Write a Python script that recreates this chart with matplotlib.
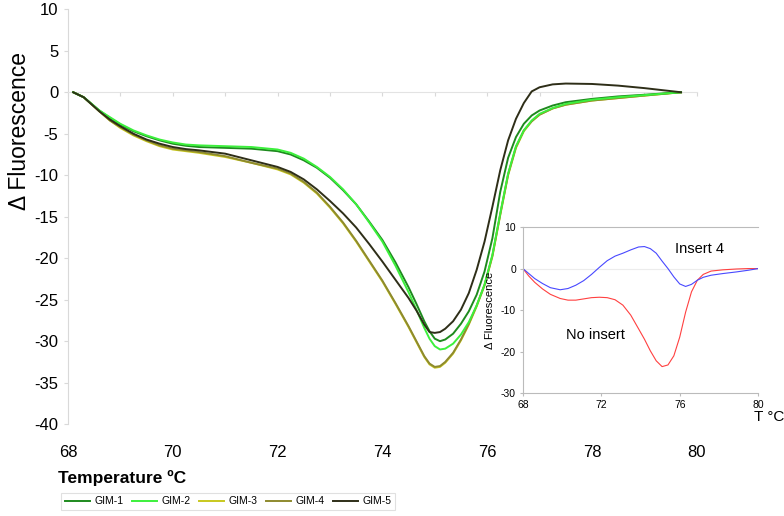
import matplotlib
matplotlib.use("Agg")
import matplotlib.pyplot as plt

plt.rcParams["font.family"] = ["Liberation Sans", "DejaVu Sans"]
plt.rcParams["axes.unicode_minus"] = False

# temperatures (deg C) at which the melt curves were read
temps = [68.1, 68.3, 68.6, 68.8, 69.0, 69.25, 69.5, 69.75, 70.0, 70.25, 70.5,
         71.0, 71.5, 72.0, 72.25, 72.5, 72.75, 73.0, 73.25, 73.5, 73.75, 74.0,
         74.25, 74.5, 74.65, 74.8, 74.9, 75.0, 75.1, 75.2, 75.35, 75.5, 75.65,
         75.8, 75.95, 76.1, 76.25, 76.4, 76.55, 76.7, 76.85, 77.0, 77.25, 77.5,
         78.0, 78.5, 79.0, 79.7]

gim1 = [0, -0.6, -2.2, -3.1, -3.9, -4.7, -5.3, -5.8, -6.2, -6.45, -6.6,
        -6.7, -6.8, -7.1, -7.5, -8.2, -9.1, -10.3, -11.8, -13.5, -15.6, -17.8,
        -20.5, -23.5, -25.5, -27.6, -28.8, -29.7, -30.0, -29.8, -29.1, -27.9, -26.4,
        -24.4, -21.6, -17.6, -12.0, -7.9, -5.4, -3.8, -2.8, -2.2, -1.6, -1.2,
        -0.8, -0.5, -0.3, 0]
gim2 = [0, -0.6, -2.2, -3.0, -3.8, -4.6, -5.2, -5.7, -6.05, -6.3, -6.4,
        -6.5, -6.6, -6.9, -7.3, -8.0, -9.0, -10.2, -11.7, -13.5, -15.7, -18.0,
        -20.9, -24.1, -26.2, -28.4, -29.7, -30.6, -31.0, -30.9, -30.3, -29.2, -27.7,
        -25.7, -23.2, -19.6, -14.6, -9.8, -6.5, -4.6, -3.4, -2.6, -1.9, -1.4,
        -0.9, -0.6, -0.35, 0]
gim3 = [0, -0.6, -2.3, -3.4, -4.3, -5.2, -5.9, -6.5, -6.9, -7.1, -7.3,
        -7.8, -8.5, -9.3, -9.9, -10.9, -12.2, -13.9, -15.8, -18.0, -20.4, -22.8,
        -25.5, -28.3, -30.1, -31.9, -32.8, -33.2, -33.1, -32.6, -31.5, -29.9, -28.0,
        -25.8, -23.3, -19.8, -14.8, -10.0, -6.7, -4.7, -3.5, -2.7, -1.95, -1.5,
        -1.0, -0.7, -0.4, 0]
gim4 = [0, -0.6, -2.3, -3.4, -4.2, -5.1, -5.8, -6.4, -6.8, -7.0, -7.2,
        -7.7, -8.5, -9.2, -9.8, -10.8, -12.1, -13.8, -15.7, -17.9, -20.3, -22.7,
        -25.4, -28.2, -30.0, -31.8, -32.7, -33.1, -33.0, -32.5, -31.4, -29.8, -27.9,
        -25.7, -23.2, -19.7, -14.7, -9.9, -6.6, -4.6, -3.5, -2.7, -1.95, -1.5,
        -1.0, -0.7, -0.4, 0]
gim5 = [0, -0.6, -2.3, -3.3, -4.1, -5.0, -5.7, -6.2, -6.6, -6.85, -7.0,
        -7.4, -8.2, -9.0, -9.6, -10.5, -11.7, -13.1, -14.6, -16.3, -18.3, -20.4,
        -22.6, -24.8, -26.3, -28.0, -28.9, -29.0, -28.9, -28.5, -27.6, -26.2, -24.2,
        -21.4, -18.0, -13.8, -9.4, -5.8, -3.2, -1.3, 0.1, 0.6, 0.95, 1.05,
        1.0, 0.8, 0.5, 0]

labels = ["GIM-1", "GIM-2", "GIM-3", "GIM-4", "GIM-5"]
colors = ["#1e8a1e", "#3cf03c", "#c8c81e", "#8e8a2e", "#2e2e18"]

# inset: plasmid with / without insert
inset_t = [68.0, 68.3, 68.6, 69.0, 69.4, 69.9, 70.3, 70.7, 71.1, 71.5, 71.9,
           72.3, 72.7, 73.1, 73.5, 73.9, 74.2, 74.5, 74.8, 75.1, 75.4, 75.7,
           76.0, 76.3, 76.6, 76.9, 77.2, 77.6, 78.2, 78.9, 79.5, 80.0]
insert4 = [0, -1.2, -2.4, -3.6, -4.6, -5.1, -4.8, -4.0, -2.9, -1.4, 0.3,
           1.9, 3.0, 3.7, 4.5, 5.2, 5.3, 4.8, 3.7, 1.8, 0.0, -2.0,
           -3.7, -4.3, -3.8, -2.8, -2.1, -1.6, -1.2, -0.8, -0.4, 0]
no_insert = [0, -1.8, -3.3, -4.9, -6.2, -7.2, -7.6, -7.6, -7.3, -7.0, -6.9,
             -7.0, -7.5, -8.8, -11.2, -14.5, -17.0, -19.8, -22.2, -23.6, -23.2, -21.0,
             -16.5, -10.5, -5.6, -2.8, -1.4, -0.6, -0.3, -0.1, 0, 0]

fig = plt.figure(figsize=(7.84, 5.16), dpi=100)
ax = fig.add_axes([0.0867, 0.178, 0.802, 0.804])

series = [gim1, gim2, gim3, gim4, gim5]
zorders = [4, 5, 3, 3, 6]
for vals, lab, col, z in zip(series, labels, colors, zorders):
    ax.plot(temps, vals, color=col, lw=1.4, label=lab, zorder=z)

ax.set_xlim(68, 80)
ax.set_ylim(-40, 10)
ax.set_yticks(range(-40, 11, 5))
ax.set_xticks(range(68, 81, 1))
ax.tick_params(axis="x", labelbottom=False, length=3, color="#d9d9d9")
ax.tick_params(axis="y", labelsize=12, length=3, color="#d9d9d9", pad=4)
for s in ["top", "right"]:
    ax.spines[s].set_visible(False)
ax.spines["left"].set_color("#d9d9d9")
ax.spines["bottom"].set_color("#e3e3e3")
ax.spines["bottom"].set_position(("data", 0))

sec = ax.secondary_xaxis(0)
sec.set_xticks(range(68, 81, 2))
sec.tick_params(length=0, labelsize=12, pad=15)
sec.spines["bottom"].set_visible(False)

fig.text(20 / 784, 1 - 131 / 516, "\u0394 Fluorescence", rotation=90,
         ha="center", va="center", fontsize=16.5)
fig.text(58 / 784, 1 - 478 / 516, "Temperature \u00baC", ha="left",
         va="center", fontsize=12.5, weight="bold")

handles, labs = ax.get_legend_handles_labels()
leg = fig.legend(handles, labs, loc="lower left", ncol=5,
                 bbox_to_anchor=(56 / 784, 1 - 515 / 516), fontsize=7.5,
                 frameon=True, fancybox=False, handlelength=2.4,
                 columnspacing=0.85, handletextpad=0.4, borderpad=0.35)
leg.get_frame().set_edgecolor("#d9d9d9")
leg.get_frame().set_linewidth(0.8)

# inset
ax2 = fig.add_axes([0.667, 0.238, 0.300, 0.322])
ax2.plot(inset_t, no_insert, color="#ff4040", lw=0.8)
ax2.plot(inset_t, insert4, color="#4848ff", lw=0.8)
ax2.axhline(0, color="#ececec", lw=0.8, zorder=0)
ax2.set_xlim(68, 80)
ax2.set_ylim(-30, 10)
ax2.set_xticks([68, 72, 76, 80])
ax2.set_yticks([-30, -20, -10, 0, 10])
ax2.tick_params(labelsize=7.5, length=2, color="#bbbbbb", pad=3)
for s in ["top", "left", "bottom"]:
    ax2.spines[s].set_color("#bbbbbb")
ax2.spines["right"].set_visible(False)
ax2.set_ylabel("\u0394 Fluorescence", fontsize=8, labelpad=4)
ax2.text(77.0, 4.7, "Insert 4", ha="center", va="center", fontsize=10.5)
ax2.text(71.7, -16, "No insert", ha="center", va="center", fontsize=10.5)
fig.text(769 / 784, 1 - 417 / 516, "T \u00b0C", ha="center", va="center",
         fontsize=11)

fig.savefig("out.png", dpi=100)
